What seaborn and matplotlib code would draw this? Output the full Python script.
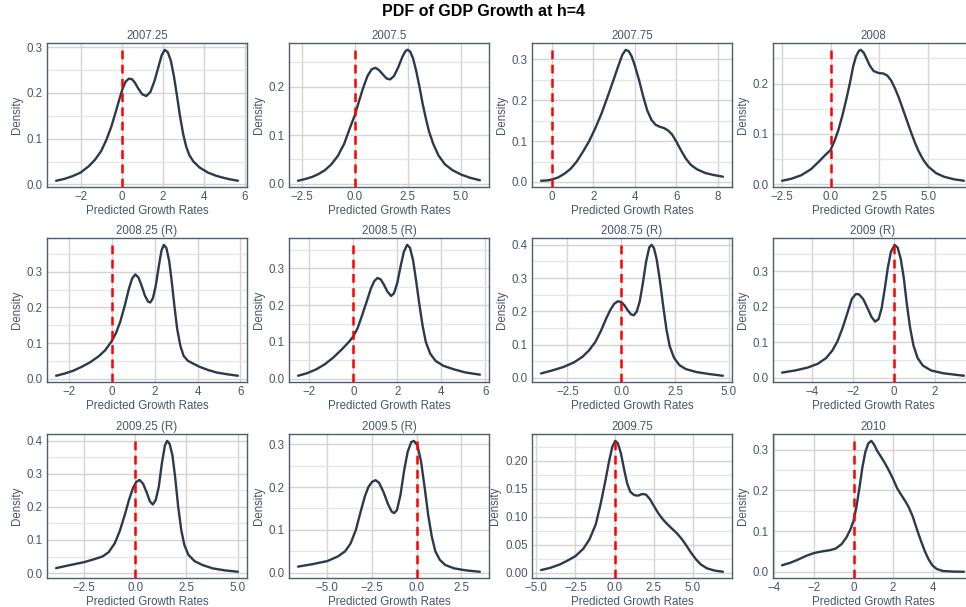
import matplotlib
matplotlib.use("Agg")
import matplotlib.pyplot as plt
from matplotlib.ticker import MultipleLocator, FuncFormatter
import seaborn as sns

# Panel titles (forecast origin, R = recession quarter)
titles = ["2007.25", "2007.5", "2007.75", "2008",
          "2008.25 (R)", "2008.5 (R)", "2008.75 (R)", "2009 (R)",
          "2009.25 (R)", "2009.5 (R)", "2009.75", "2010"]

# Density curves: predicted growth rate vs density
x_2007_25 = [-3.2, -2.8, -2.4, -2.0, -1.6, -1.3, -1.0, -0.75, -0.5, -0.3, -0.1, 0.05, 0.2, 0.35, 0.5, 0.65, 0.8, 1.0, 1.2, 1.4, 1.6, 1.8, 1.95, 2.1, 2.25, 2.4, 2.55, 2.7, 2.85, 3.0, 3.15, 3.3, 3.5, 3.8, 4.2, 4.6, 5.0, 5.3, 5.67]
d_2007_25 = [0.008, 0.012, 0.018, 0.026, 0.040, 0.054, 0.073, 0.097, 0.127, 0.157, 0.188, 0.210, 0.225, 0.231, 0.230, 0.222, 0.210, 0.197, 0.193, 0.202, 0.226, 0.258, 0.282, 0.294, 0.289, 0.270, 0.236, 0.193, 0.148, 0.110, 0.082, 0.064, 0.050, 0.037, 0.026, 0.019, 0.014, 0.011, 0.008]

x_2007_5 = [-2.67, -2.3, -2.0, -1.7, -1.4, -1.1, -0.8, -0.5, -0.25, 0.0, 0.2, 0.4, 0.6, 0.8, 0.98, 1.15, 1.35, 1.5, 1.67, 1.85, 2.05, 2.25, 2.4, 2.5, 2.62, 2.75, 2.9, 3.05, 3.2, 3.35, 3.5, 3.7, 3.95, 4.25, 4.6, 5.0, 5.45, 5.9]
d_2007_5 = [0.006, 0.010, 0.014, 0.020, 0.028, 0.040, 0.057, 0.082, 0.112, 0.141, 0.170, 0.198, 0.222, 0.236, 0.239, 0.234, 0.224, 0.217, 0.215, 0.222, 0.240, 0.262, 0.274, 0.276, 0.272, 0.258, 0.232, 0.200, 0.165, 0.135, 0.108, 0.082, 0.058, 0.040, 0.028, 0.019, 0.012, 0.007]

x_2007_75 = [-0.52, -0.2, 0.0, 0.3, 0.6, 0.9, 1.2, 1.5, 1.8, 2.1, 2.4, 2.7, 2.95, 3.2, 3.4, 3.56, 3.7, 3.85, 4.0, 4.2, 4.4, 4.6, 4.8, 5.0, 5.2, 5.4, 5.6, 5.8, 6.0, 6.2, 6.45, 6.7, 7.0, 7.4, 7.8, 8.25]
d_2007_75 = [0.003, 0.004, 0.006, 0.011, 0.020, 0.032, 0.050, 0.074, 0.100, 0.132, 0.168, 0.210, 0.246, 0.283, 0.311, 0.323, 0.320, 0.307, 0.285, 0.250, 0.210, 0.175, 0.152, 0.140, 0.135, 0.132, 0.126, 0.116, 0.099, 0.080, 0.058, 0.042, 0.031, 0.022, 0.017, 0.013]

x_2008 = [-2.48, -2.0, -1.5, -1.0, -0.6, -0.3, 0.0, 0.2, 0.4, 0.6, 0.8, 1.0, 1.15, 1.3, 1.45, 1.55, 1.7, 1.85, 2.0, 2.2, 2.45, 2.7, 2.9, 3.1, 3.3, 3.5, 3.7, 3.9, 4.1, 4.3, 4.5, 4.75, 5.0, 5.4, 5.8, 6.3, 6.82]
d_2008 = [0.007, 0.011, 0.018, 0.030, 0.045, 0.057, 0.068, 0.086, 0.108, 0.136, 0.168, 0.203, 0.233, 0.254, 0.265, 0.267, 0.261, 0.249, 0.236, 0.225, 0.221, 0.220, 0.216, 0.206, 0.190, 0.171, 0.149, 0.127, 0.105, 0.084, 0.066, 0.048, 0.035, 0.022, 0.015, 0.010, 0.007]

x_2008_25 = [-2.59, -2.2, -1.8, -1.4, -1.0, -0.6, -0.3, 0.0, 0.2, 0.4, 0.6, 0.8, 0.95, 1.1, 1.25, 1.4, 1.55, 1.7, 1.8, 1.92, 2.05, 2.2, 2.32, 2.43, 2.55, 2.68, 2.8, 2.92, 3.05, 3.2, 3.35, 3.55, 3.8, 4.1, 4.5, 4.9, 5.4, 5.88]
d_2008_25 = [0.008, 0.014, 0.022, 0.033, 0.046, 0.063, 0.080, 0.105, 0.128, 0.160, 0.203, 0.252, 0.281, 0.293, 0.284, 0.260, 0.233, 0.216, 0.214, 0.226, 0.260, 0.318, 0.360, 0.376, 0.367, 0.330, 0.272, 0.205, 0.140, 0.092, 0.064, 0.050, 0.042, 0.033, 0.024, 0.017, 0.012, 0.008]

x_2008_5 = [-2.51, -2.1, -1.7, -1.3, -0.9, -0.5, -0.2, 0.0, 0.2, 0.4, 0.6, 0.8, 0.95, 1.1, 1.25, 1.4, 1.55, 1.72, 1.85, 2.0, 2.15, 2.3, 2.45, 2.58, 2.72, 2.85, 3.0, 3.15, 3.3, 3.5, 3.75, 4.1, 4.6, 5.1, 5.76]
d_2008_5 = [0.008, 0.015, 0.025, 0.039, 0.058, 0.081, 0.100, 0.115, 0.138, 0.172, 0.208, 0.245, 0.265, 0.274, 0.270, 0.255, 0.237, 0.225, 0.232, 0.260, 0.305, 0.345, 0.364, 0.356, 0.322, 0.270, 0.205, 0.145, 0.100, 0.068, 0.048, 0.035, 0.025, 0.017, 0.011]

x_2008_75 = [-3.72, -3.2, -2.7, -2.2, -1.8, -1.5, -1.2, -0.95, -0.7, -0.5, -0.32, -0.16, 0.0, 0.15, 0.3, 0.45, 0.58, 0.72, 0.86, 1.0, 1.15, 1.3, 1.41, 1.52, 1.65, 1.8, 1.95, 2.1, 2.25, 2.45, 2.7, 3.0, 3.5, 4.1, 4.72]
d_2008_75 = [0.013, 0.022, 0.032, 0.046, 0.063, 0.082, 0.108, 0.140, 0.178, 0.205, 0.223, 0.230, 0.228, 0.218, 0.203, 0.191, 0.188, 0.199, 0.230, 0.283, 0.348, 0.392, 0.400, 0.390, 0.355, 0.290, 0.215, 0.145, 0.095, 0.060, 0.038, 0.026, 0.017, 0.011, 0.006]

x_2009 = [-5.44, -4.8, -4.2, -3.7, -3.3, -3.0, -2.75, -2.5, -2.25, -2.05, -1.85, -1.7, -1.5, -1.3, -1.1, -0.92, -0.75, -0.6, -0.45, -0.3, -0.15, 0.03, 0.18, 0.33, 0.48, 0.62, 0.78, 0.95, 1.15, 1.4, 1.8, 2.4, 3.4]
d_2009 = [0.014, 0.020, 0.028, 0.039, 0.055, 0.076, 0.102, 0.140, 0.185, 0.222, 0.236, 0.235, 0.222, 0.198, 0.172, 0.158, 0.165, 0.196, 0.250, 0.310, 0.355, 0.375, 0.367, 0.335, 0.280, 0.210, 0.142, 0.090, 0.055, 0.034, 0.020, 0.012, 0.005]

x_2009_25 = [-3.87, -3.2, -2.5, -2.0, -1.6, -1.3, -1.0, -0.75, -0.5, -0.3, -0.1, 0.05, 0.21, 0.38, 0.55, 0.72, 0.86, 1.0, 1.15, 1.3, 1.45, 1.56, 1.68, 1.82, 1.95, 2.1, 2.25, 2.4, 2.6, 2.9, 3.3, 3.8, 4.4, 5.02]
d_2009_25 = [0.015, 0.024, 0.033, 0.042, 0.050, 0.063, 0.090, 0.128, 0.178, 0.222, 0.258, 0.275, 0.281, 0.270, 0.245, 0.216, 0.207, 0.220, 0.260, 0.330, 0.385, 0.399, 0.390, 0.355, 0.290, 0.200, 0.130, 0.085, 0.055, 0.036, 0.024, 0.014, 0.008, 0.004]

x_2009_5 = [-6.64, -5.8, -5.0, -4.4, -4.0, -3.7, -3.4, -3.15, -2.9, -2.7, -2.5, -2.3, -2.1, -1.85, -1.6, -1.4, -1.26, -1.1, -0.9, -0.7, -0.5, -0.3, -0.15, 0.05, 0.25, 0.45, 0.65, 0.85, 1.05, 1.3, 1.6, 2.1, 2.8, 3.55]
d_2009_5 = [0.014, 0.020, 0.027, 0.038, 0.050, 0.068, 0.100, 0.140, 0.178, 0.200, 0.212, 0.216, 0.210, 0.188, 0.160, 0.143, 0.139, 0.146, 0.182, 0.238, 0.282, 0.305, 0.308, 0.297, 0.260, 0.200, 0.135, 0.085, 0.050, 0.030, 0.018, 0.010, 0.005, 0.002]

x_2009_75 = [-4.69, -4.1, -3.5, -3.0, -2.5, -2.0, -1.6, -1.2, -0.9, -0.6, -0.35, -0.15, 0.04, 0.2, 0.4, 0.6, 0.8, 1.0, 1.25, 1.5, 1.75, 2.0, 2.25, 2.5, 2.8, 3.1, 3.4, 3.7, 4.0, 4.3, 4.6, 4.9, 5.2, 5.5, 5.9, 6.4, 6.91]
d_2009_75 = [0.005, 0.009, 0.015, 0.022, 0.030, 0.043, 0.060, 0.087, 0.122, 0.163, 0.200, 0.225, 0.236, 0.232, 0.214, 0.186, 0.160, 0.145, 0.139, 0.138, 0.141, 0.140, 0.132, 0.120, 0.106, 0.095, 0.086, 0.078, 0.070, 0.060, 0.048, 0.035, 0.024, 0.015, 0.008, 0.004, 0.002]

x_2010 = [-3.61, -3.2, -2.8, -2.4, -2.0, -1.6, -1.2, -0.9, -0.6, -0.35, -0.15, 0.0, 0.15, 0.3, 0.45, 0.6, 0.75, 0.9, 1.05, 1.2, 1.4, 1.6, 1.8, 2.0, 2.2, 2.4, 2.6, 2.8, 3.0, 3.2, 3.4, 3.6, 3.8, 4.0, 4.2, 4.5, 5.0, 5.58]
d_2010 = [0.016, 0.022, 0.030, 0.039, 0.046, 0.050, 0.053, 0.057, 0.068, 0.085, 0.105, 0.125, 0.160, 0.207, 0.257, 0.295, 0.316, 0.322, 0.312, 0.297, 0.282, 0.266, 0.248, 0.228, 0.206, 0.190, 0.175, 0.158, 0.135, 0.105, 0.077, 0.051, 0.030, 0.015, 0.007, 0.002, 0.0005, 0.0]

x_values = [x_2007_25, x_2007_5, x_2007_75, x_2008,
            x_2008_25, x_2008_5, x_2008_75, x_2009,
            x_2009_25, x_2009_5, x_2009_75, x_2010]
densities = [d_2007_25, d_2007_5, d_2007_75, d_2008,
             d_2008_25, d_2008_5, d_2008_75, d_2009,
             d_2009_25, d_2009_5, d_2009_75, d_2010]

# Tick spacing for each panel's axes
x_tick_step = [2, 2.5, 2, 2.5, 2, 2, 2.5, 2, 2.5, 2.5, 2.5, 2]
y_tick_step = [0.1, 0.1, 0.1, 0.1, 0.1, 0.1, 0.1, 0.1, 0.1, 0.1, 0.05, 0.1]

sns.set_theme(style="whitegrid")
plt.rcParams["font.family"] = ["Liberation Sans", "DejaVu Sans"]

TEXT = "#4a5568"
LINE = "#2b3a4c"
SPINE = "#4f5d6d"

fig = plt.figure(figsize=(9.66, 6.07), dpi=100)
W, H = 966, 607
col_left = [47, 289, 532, 773]
row_top = [43.3, 238.3, 434.3]
ax_w, ax_h = 200, 144


def fmt_factory(step):
    decimals = 0 if float(step).is_integer() else len(f"{step}".split(".")[1])
    decimals = 1 if step == 2.5 else decimals

    def fmt(v, _):
        s = f"{v:.{decimals}f}"
        if s.startswith("-"):
            s = "\u2212" + s[1:]
        if s in ("\u22120", "\u22120.0", "\u22120.00"):
            s = s[1:]
        return s
    return FuncFormatter(fmt)


for i in range(12):
    r, c = divmod(i, 4)
    rect = [col_left[c] / W, 1 - (row_top[r] + ax_h) / H, ax_w / W, ax_h / H]
    ax = fig.add_axes(rect)
    xs, ds = x_values[i], densities[i]
    sns.lineplot(x=xs, y=ds, ax=ax, color=LINE, lw=1.7, sort=False)

    ymin, ymax = min(ds), max(ds)
    pad = 0.05 * (ymax - ymin)
    lo, hi = ymin - pad, ymax + pad
    ax.set_ylim(lo, hi)
    xpad = 0.05 * (max(xs) - min(xs))
    ax.set_xlim(min(xs) - xpad, max(xs) + xpad)
    ax.vlines(0, lo, ymax, colors="red", linestyles=(0, (3.5, 2.2)), lw=1.8, zorder=3)

    ax.xaxis.set_major_locator(MultipleLocator(x_tick_step[i]))
    ax.xaxis.set_major_formatter(fmt_factory(x_tick_step[i]))
    ax.yaxis.set_major_locator(MultipleLocator(y_tick_step[i]))
    ax.yaxis.set_minor_locator(MultipleLocator(y_tick_step[i] / 2))
    ax.yaxis.set_major_formatter(fmt_factory(y_tick_step[i]))

    ax.grid(which="major", color="#d4d4d4", lw=1.0)
    ax.grid(which="minor", axis="y", color="#e6e6e6", lw=0.9)
    ax.set_axisbelow(True)
    ax.tick_params(axis="both", which="both", length=0, pad=3,
                   labelsize=8.3, colors=TEXT)
    for sp in ax.spines.values():
        sp.set_visible(True)
        sp.set_color(SPINE)
        sp.set_linewidth(1.0)

    ax.set_title(titles[i], fontsize=8.3, color=TEXT, pad=3)
    ax.set_xlabel("Predicted Growth Rates", fontsize=8.3, color=TEXT, labelpad=1)
    ax.set_ylabel("Density", fontsize=8.3, color=TEXT, labelpad=3)

    # hide x tick labels that would fall past the right edge of the canvas
    lo_x, hi_x = ax.get_xlim()
    step = x_tick_step[i]
    visible = []
    t = step * (lo_x // step)
    while t <= hi_x + 1e-9:
        if t >= lo_x - 1e-9:
            px = ax.transData.transform((t, 0))[0]
            if px < W - 6:
                visible.append(t)
        t += step
    ax.set_xticks(visible)
    ax.set_xlim(lo_x, hi_x)

fig.suptitle("PDF of GDP Growth at h=4", x=0.5, y=0.993, fontsize=11.5,
             fontweight="bold", color="black")

fig.savefig("out.png", dpi=100, facecolor="white")
